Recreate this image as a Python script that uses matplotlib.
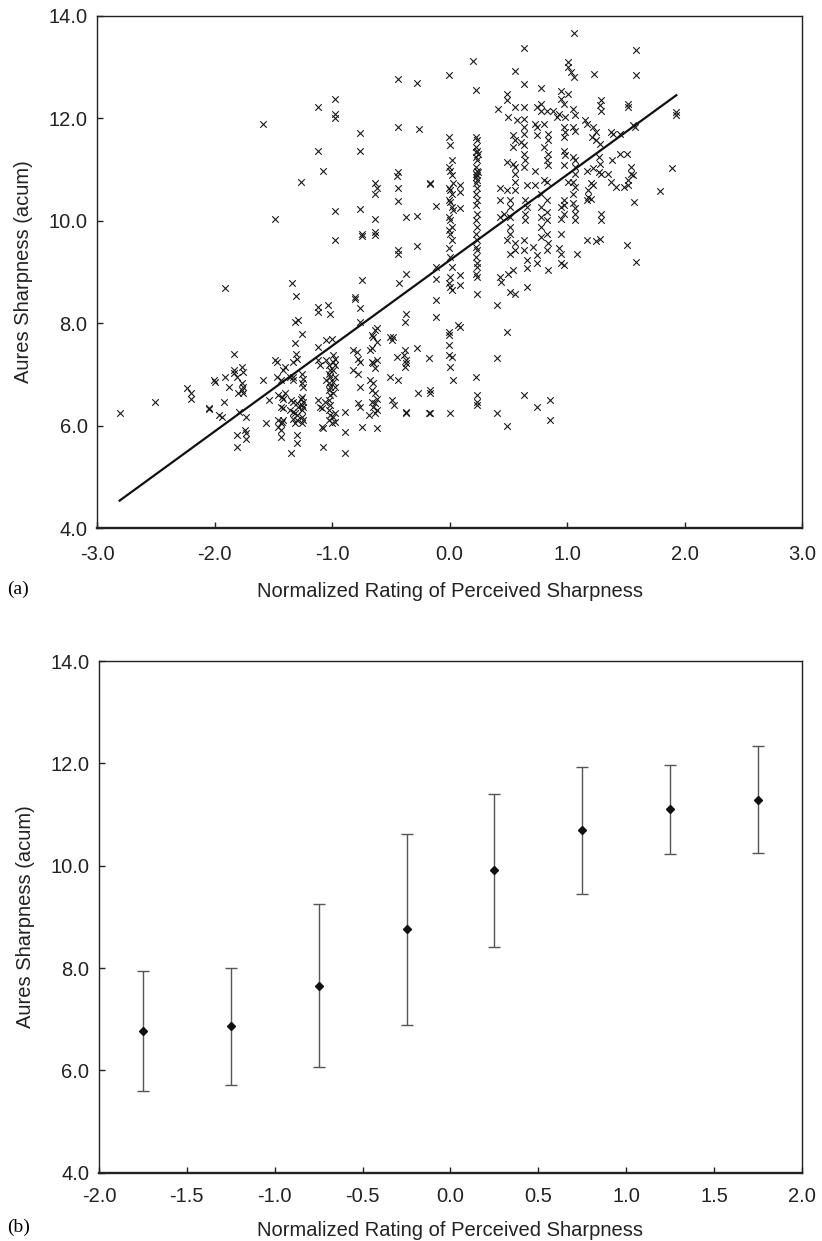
import numpy as np
import matplotlib.pyplot as plt

plt.rcParams['font.family'] = ['Liberation Sans', 'DejaVu Sans']

# (a) individual ratings: (normalized rating, Aures sharpness in acum)
scatter_pts = [
    # upper left, sparse
    (-1.59, 11.88), (-1.49, 10.03), (-1.91, 8.68), (-1.27, 10.76), (-1.34, 8.78), (-1.31, 8.54),
    (-1.12, 12.22), (-1.12, 11.36), (-1.08, 10.98),
    (-0.98, 12.38), (-0.98, 12.09), (-0.98, 12.01), (-0.98, 10.19), (-0.98, 9.62),
    (-1.12, 8.31), (-1.12, 8.22), (-1.04, 8.35), (-1.02, 8.19),
    (-0.76, 11.72), (-0.76, 11.36), (-0.76, 10.22), (-0.75, 9.75), (-0.75, 9.70), (-0.75, 8.84),
    (-0.76, 8.29), (-0.81, 8.52), (-0.81, 8.47),
    (-0.64, 10.74), (-0.64, 10.53), (-0.62, 10.63), (-0.64, 10.04), (-0.64, 9.78), (-0.64, 9.73),
    (-0.44, 12.77), (-0.44, 11.83), (-0.45, 10.87), (-0.44, 10.96), (-0.44, 10.63), (-0.44, 10.39),
    (-0.44, 9.43), (-0.44, 9.35), (-0.43, 8.79), (-0.37, 8.97), (-0.37, 10.08), (-0.37, 8.19),
    (-0.28, 12.69), (-0.26, 11.80), (-0.28, 10.09), (-0.28, 9.50),
    # upper right, sparse
    (-0.01, 12.84), (0.20, 13.11), (0.22, 12.56), (0.63, 13.37), (0.56, 12.93), (0.63, 12.66),
    (0.78, 12.60), (1.06, 13.67), (1.01, 13.10), (1.01, 13.00), (1.03, 12.90), (1.06, 12.80),
    (1.23, 12.86), (1.59, 13.34), (1.59, 12.84), (1.93, 12.12), (1.93, 12.06), (1.89, 11.03),
    (1.79, 10.58), (1.57, 10.37), (1.51, 9.53), (1.59, 9.20), (1.08, 9.35), (1.29, 10.14),
    (1.29, 10.01), (1.17, 9.63), (1.25, 9.61), (1.28, 9.64),
    # around -0.15
    (-0.17, 10.74), (-0.17, 10.72), (-0.12, 10.28), (-0.12, 9.10), (-0.12, 8.87), (-0.12, 8.45),
    (-0.12, 8.13), (-0.18, 7.33), (-0.17, 6.70), (-0.17, 6.63), (-0.17, 6.24), (-0.18, 6.25),
    # column near 0.0
    (-0.01, 11.63), (0.00, 11.47), (0.02, 11.18), (-0.01, 11.05), (0.00, 10.98), (0.02, 10.89),
    (0.03, 10.73), (-0.01, 10.63), (0.00, 10.60), (0.02, 10.53), (-0.01, 10.40), (0.00, 10.37),
    (0.02, 10.27), (0.03, 10.21), (-0.01, 10.08), (0.00, 10.01), (0.02, 9.88), (-0.01, 9.82),
    (0.00, 9.75), (0.02, 9.62), (-0.01, 9.46), (0.00, 9.30), (0.02, 9.10), (0.00, 8.91),
    (-0.01, 8.78), (0.00, 8.71), (0.02, 8.65),
    (0.09, 10.69), (0.09, 10.56), (0.09, 10.24), (0.09, 8.94), (0.09, 8.74),
    (-0.01, 7.83), (-0.01, 7.77), (-0.01, 7.57), (-0.01, 7.38), (0.02, 7.35), (0.00, 7.15),
    (0.03, 6.89), (0.00, 6.24), (0.09, 7.93), (0.07, 7.96),
    # column near 0.22
    (0.22, 11.63), (0.23, 11.57), (0.22, 11.44), (0.23, 11.37), (0.22, 11.34), (0.24, 11.31),
    (0.22, 11.24), (0.23, 11.18), (0.22, 11.05), (0.23, 10.98), (0.24, 10.95), (0.22, 10.92),
    (0.23, 10.89), (0.22, 10.86), (0.23, 10.79), (0.22, 10.73), (0.23, 10.63), (0.22, 10.53),
    (0.23, 10.40), (0.22, 10.30), (0.23, 10.14), (0.22, 10.01), (0.23, 9.88), (0.22, 9.75),
    (0.23, 9.62), (0.22, 9.49), (0.23, 9.43), (0.22, 9.30), (0.23, 9.17), (0.23, 9.10),
    (0.22, 8.97), (0.23, 8.91), (0.23, 8.58),
    (0.22, 6.96), (0.23, 6.60), (0.23, 6.47), (0.23, 6.40),
    # cluster 0.4 - 0.75
    (0.41, 12.19), (0.49, 12.48), (0.49, 12.35), (0.56, 12.22), (0.50, 12.02), (0.57, 11.96),
    (0.63, 12.22), (0.63, 11.99), (0.63, 11.83), (0.63, 11.70), (0.54, 11.67), (0.56, 11.57),
    (0.61, 11.54), (0.63, 11.47), (0.54, 11.44), (0.63, 11.31), (0.49, 11.15), (0.54, 11.11),
    (0.64, 11.18), (0.56, 11.05), (0.63, 11.05), (0.56, 10.92), (0.56, 10.76), (0.56, 10.60),
    (0.49, 10.60), (0.43, 10.63), (0.43, 10.40), (0.51, 10.40), (0.51, 10.27), (0.46, 10.14),
    (0.51, 10.08), (0.43, 10.08), (0.51, 9.88), (0.51, 9.75), (0.49, 9.62), (0.56, 9.56),
    (0.51, 9.36), (0.56, 9.43), (0.63, 9.62), (0.63, 9.43), (0.54, 9.04), (0.50, 8.97),
    (0.43, 8.91), (0.44, 8.81), (0.51, 8.61), (0.56, 8.58), (0.40, 8.35), (0.66, 8.71),
    (0.66, 9.07), (0.66, 9.23), (0.64, 10.14), (0.64, 10.01), (0.66, 10.27), (0.64, 10.40),
    (0.66, 10.69), (0.73, 10.69), (0.73, 10.98), (0.74, 12.22), (0.73, 11.89), (0.74, 11.83),
    (0.74, 11.67), (0.71, 9.49), (0.74, 9.33), (0.74, 9.17), (0.84, 9.04),
    (0.40, 7.33), (0.40, 6.24), (0.49, 7.83), (0.49, 6.00), (0.63, 6.60), (0.74, 6.37),
    (0.85, 6.51), (0.85, 6.12),
    # column near 0.8
    (0.78, 12.28), (0.78, 12.15), (0.83, 12.15), (0.80, 11.89), (0.84, 11.70), (0.84, 11.57),
    (0.80, 11.44), (0.84, 11.31), (0.83, 11.18), (0.84, 11.08), (0.80, 10.79), (0.83, 10.76),
    (0.78, 10.53), (0.83, 10.40), (0.78, 10.27), (0.83, 10.17), (0.78, 10.08), (0.83, 10.01),
    (0.78, 9.88), (0.83, 9.75), (0.78, 9.69), (0.84, 9.56), (0.83, 9.43), (0.88, 12.15),
    (0.91, 12.02),
    # column near 1.0
    (0.95, 12.54), (1.01, 12.48), (0.95, 12.38), (0.97, 12.28), (0.93, 12.09), (0.98, 12.02),
    (1.05, 12.19), (1.07, 12.06), (0.97, 11.83), (0.98, 11.73), (0.97, 11.63), (1.05, 11.83),
    (1.07, 11.76), (0.97, 11.37), (0.98, 11.28), (0.97, 11.08), (1.05, 11.24), (1.07, 11.18),
    (1.07, 11.05), (1.07, 10.92), (1.05, 10.76), (1.01, 10.76), (1.07, 10.66), (1.05, 10.53),
    (0.97, 10.40), (0.97, 10.30), (0.95, 10.27), (0.97, 10.14), (0.95, 10.04), (1.05, 10.34),
    (1.07, 10.24), (1.07, 10.14), (1.07, 10.01), (0.95, 9.75), (0.93, 9.46), (0.95, 9.36),
    (0.95, 9.17), (0.97, 9.13),
    # column near 1.2
    (1.15, 11.96), (1.17, 11.89), (1.22, 11.83), (1.25, 11.73), (1.25, 11.57), (1.29, 12.35),
    (1.28, 12.25), (1.29, 12.15), (1.21, 11.63), (1.28, 11.50), (1.22, 11.02), (1.27, 10.95),
    (1.29, 10.92), (1.20, 10.73), (1.22, 10.69), (1.18, 10.60), (1.20, 10.43), (1.18, 10.47),
    (1.17, 10.40), (1.28, 11.11), (1.27, 11.24), (1.17, 10.98),
    # right edge 1.35 - 1.6
    (1.37, 11.73), (1.45, 11.70), (1.39, 11.70), (1.38, 11.18), (1.35, 10.92), (1.37, 10.76),
    (1.42, 10.66), (1.45, 11.31), (1.51, 11.31), (1.54, 11.05), (1.54, 10.92), (1.56, 10.89),
    (1.52, 12.22), (1.52, 12.28), (1.56, 11.86), (1.58, 11.83), (1.52, 10.79), (1.52, 10.69),
    (1.48, 10.66),
    # lower left
    (-2.81, 6.24), (-2.51, 6.47),
    (-2.24, 6.73), (-2.20, 6.63), (-2.20, 6.53),
    (-2.05, 6.34), (-2.05, 6.32), (-2.01, 6.89), (-2.00, 6.86), (-1.96, 6.21), (-1.94, 6.18),
    (-1.91, 6.96), (-1.92, 6.47), (-1.88, 6.76), (-1.84, 7.41), (-1.84, 7.09), (-1.84, 7.03),
    (-1.81, 6.96), (-1.80, 6.63), (-1.81, 5.59), (-1.81, 5.82), (-1.79, 6.27),
    (-1.77, 7.15), (-1.76, 7.05), (-1.77, 6.83), (-1.76, 6.76), (-1.77, 6.70), (-1.76, 6.63),
    (-1.74, 5.92), (-1.73, 5.85), (-1.73, 5.75), (-1.73, 6.18),
    (-1.59, 6.89), (-1.54, 6.50), (-1.56, 6.05),
    (-1.49, 7.28), (-1.47, 7.25), (-1.47, 6.96), (-1.44, 6.89), (-1.42, 7.09),
    (-1.46, 6.60), (-1.43, 6.57), (-1.42, 6.53), (-1.40, 6.63), (-1.44, 6.37), (-1.42, 6.34),
    (-1.46, 6.11), (-1.44, 6.05), (-1.43, 6.08), (-1.42, 6.11), (-1.46, 5.98), (-1.44, 5.92),
    (-1.44, 5.79), (-1.40, 7.15), (-1.36, 6.96),
    (-1.32, 8.03), (-1.29, 8.06), (-1.32, 7.61), (-1.31, 7.40), (-1.30, 7.31), (-1.33, 7.25),
    (-1.26, 7.80), (-1.33, 6.96), (-1.33, 6.89),
    (-1.36, 6.31), (-1.33, 6.27), (-1.32, 6.24), (-1.30, 6.21),
    (-1.35, 6.50), (-1.33, 6.47), (-1.30, 6.44), (-1.29, 6.37), (-1.27, 6.53),
    (-1.33, 6.14), (-1.30, 6.11), (-1.32, 6.05), (-1.30, 5.82), (-1.30, 5.66), (-1.35, 5.46),
    (-1.26, 7.02), (-1.25, 6.92), (-1.26, 6.83), (-1.25, 6.76),
    (-1.26, 6.57), (-1.25, 6.47), (-1.26, 6.40), (-1.25, 6.37), (-1.26, 6.31),
    (-1.26, 6.18), (-1.25, 6.11), (-1.26, 6.05),
    (-1.12, 7.54), (-1.12, 7.28), (-1.10, 7.18),
    (-1.12, 6.50), (-1.10, 6.37), (-1.09, 6.34), (-1.06, 6.47), (-1.09, 5.98), (-1.08, 5.95),
    (-1.08, 5.59), (-1.05, 7.67), (-1.00, 7.70),
    (-1.05, 7.28), (-1.03, 7.18), (-1.02, 7.09), (-1.03, 7.02), (-1.02, 6.96), (-1.05, 6.89),
    (-1.03, 6.83), (-1.02, 6.76), (-1.03, 6.70), (-1.02, 6.60), (-1.03, 6.50), (-1.02, 6.40),
    (-1.03, 6.31), (-1.02, 6.21), (-1.03, 6.11), (-1.00, 6.05),
    (-0.99, 7.38), (-0.98, 7.31), (-0.99, 7.25), (-0.98, 7.18), (-0.99, 7.09), (-0.98, 6.96),
    (-0.99, 6.86), (-0.98, 6.76), (-0.99, 6.63), (-0.98, 6.24), (-0.99, 6.18), (-0.98, 6.08),
    (-0.89, 6.27), (-0.89, 5.88), (-0.89, 5.47),
    (-0.76, 8.03), (-0.82, 7.48), (-0.79, 7.44), (-0.78, 7.31), (-0.76, 7.25),
    (-0.82, 7.09), (-0.78, 7.02), (-0.76, 6.76), (-0.78, 6.44), (-0.76, 6.37), (-0.75, 5.98),
    (-0.68, 7.48), (-0.66, 7.51), (-0.66, 7.77), (-0.65, 7.74), (-0.64, 7.87), (-0.62, 7.90),
    (-0.62, 7.64), (-0.66, 7.25), (-0.65, 7.22), (-0.62, 7.28), (-0.64, 7.12),
    (-0.68, 6.89), (-0.65, 6.83), (-0.66, 6.70), (-0.64, 6.63), (-0.62, 6.53),
    (-0.66, 6.47), (-0.64, 6.44), (-0.65, 6.37), (-0.62, 6.31), (-0.64, 6.24),
    (-0.69, 6.21), (-0.62, 5.95),
    (-0.51, 7.74), (-0.48, 7.74), (-0.49, 7.67), (-0.51, 6.96), (-0.44, 6.89),
    (-0.49, 6.50), (-0.47, 6.40),
    (-0.45, 7.35), (-0.39, 7.38), (-0.38, 7.48), (-0.37, 7.28), (-0.38, 7.15), (-0.37, 7.22),
    (-0.38, 8.03), (-0.37, 6.27), (-0.37, 6.24), (-0.28, 7.51), (-0.27, 6.63),
]
rating, acum = np.array(scatter_pts).T

# linear fit drawn in (a): end points
fit_x = [-2.81, 1.93]
fit_y = [4.54, 12.45]

# (b) binned means with error bars
bin_x = [-1.75, -1.25, -0.75, -0.25, 0.25, 0.75, 1.25, 1.75]
bin_mean = [6.77, 6.87, 7.64, 8.76, 9.92, 10.70, 11.10, 11.29]
bin_upper = [7.94, 8.01, 9.26, 10.63, 11.40, 11.93, 11.97, 12.34]
bin_lower = [5.59, 5.72, 6.06, 6.89, 8.42, 9.44, 10.22, 10.24]

ylabel = "Aures Sharpness (acum)"
xlabel = "Normalized Rating of Perceived Sharpness"

fig = plt.figure(figsize=(8.22, 12.41), dpi=100)
ax1 = fig.add_axes([0.1184, 0.5743, 0.8573, 0.4130])
ax2 = fig.add_axes([0.1204, 0.0550, 0.8553, 0.4123])


def style_axes(ax, xpad, labelpad):
    for side in ['top', 'right', 'left']:
        ax.spines[side].set_linewidth(1.0)
        ax.spines[side].set_color('#222222')
    ax.spines['bottom'].set_linewidth(1.7)
    ax.spines['bottom'].set_color('#222222')
    ax.tick_params(axis='both', direction='in', length=4.5, width=1.0,
                   labelsize=14.5, colors='#222222')
    ax.tick_params(axis='x', pad=xpad)
    ax.tick_params(axis='y', pad=7)
    ax.set_ylim(4.0, 14.0)
    ax.set_yticks(np.arange(4, 14.1, 2))
    ax.yaxis.set_major_formatter(plt.FormatStrFormatter('%.1f'))
    ax.xaxis.set_major_formatter(plt.FormatStrFormatter('%.1f'))
    ax.set_ylabel(ylabel, fontsize=14.5, labelpad=11, color='#222222')
    ax.set_xlabel(xlabel, fontsize=14.5, labelpad=labelpad, color='#222222')


# (a) scatter
ax1.scatter(rating, acum, marker='x', s=22, c='#1a1a1a', linewidths=0.8)
ax1.plot(fit_x, fit_y, color='#111111', lw=1.6)
ax1.set_xlim(-3.0, 3.0)
ax1.set_xticks(np.arange(-3, 3.1, 1))
style_axes(ax1, xpad=12, labelpad=13)

# (b) error bars
yerr = [np.array(bin_mean) - np.array(bin_lower), np.array(bin_upper) - np.array(bin_mean)]
ax2.errorbar(bin_x, bin_mean, yerr=yerr, fmt='D', ms=4.5, color='#111111',
             ecolor='#555555', elinewidth=1.0, capsize=4, capthick=1.0)
ax2.set_xlim(-2.0, 2.0)
ax2.set_xticks(np.arange(-2, 2.01, 0.5))
style_axes(ax2, xpad=10, labelpad=11)

fig.text(0.009, 0.5254, "(a)", fontsize=14, family=['Liberation Serif', 'DejaVu Serif'],
         va='center', ha='left')
fig.text(0.009, 0.0113, "(b)", fontsize=14, family=['Liberation Serif', 'DejaVu Serif'],
         va='center', ha='left')

fig.savefig("out.png", dpi=100)
